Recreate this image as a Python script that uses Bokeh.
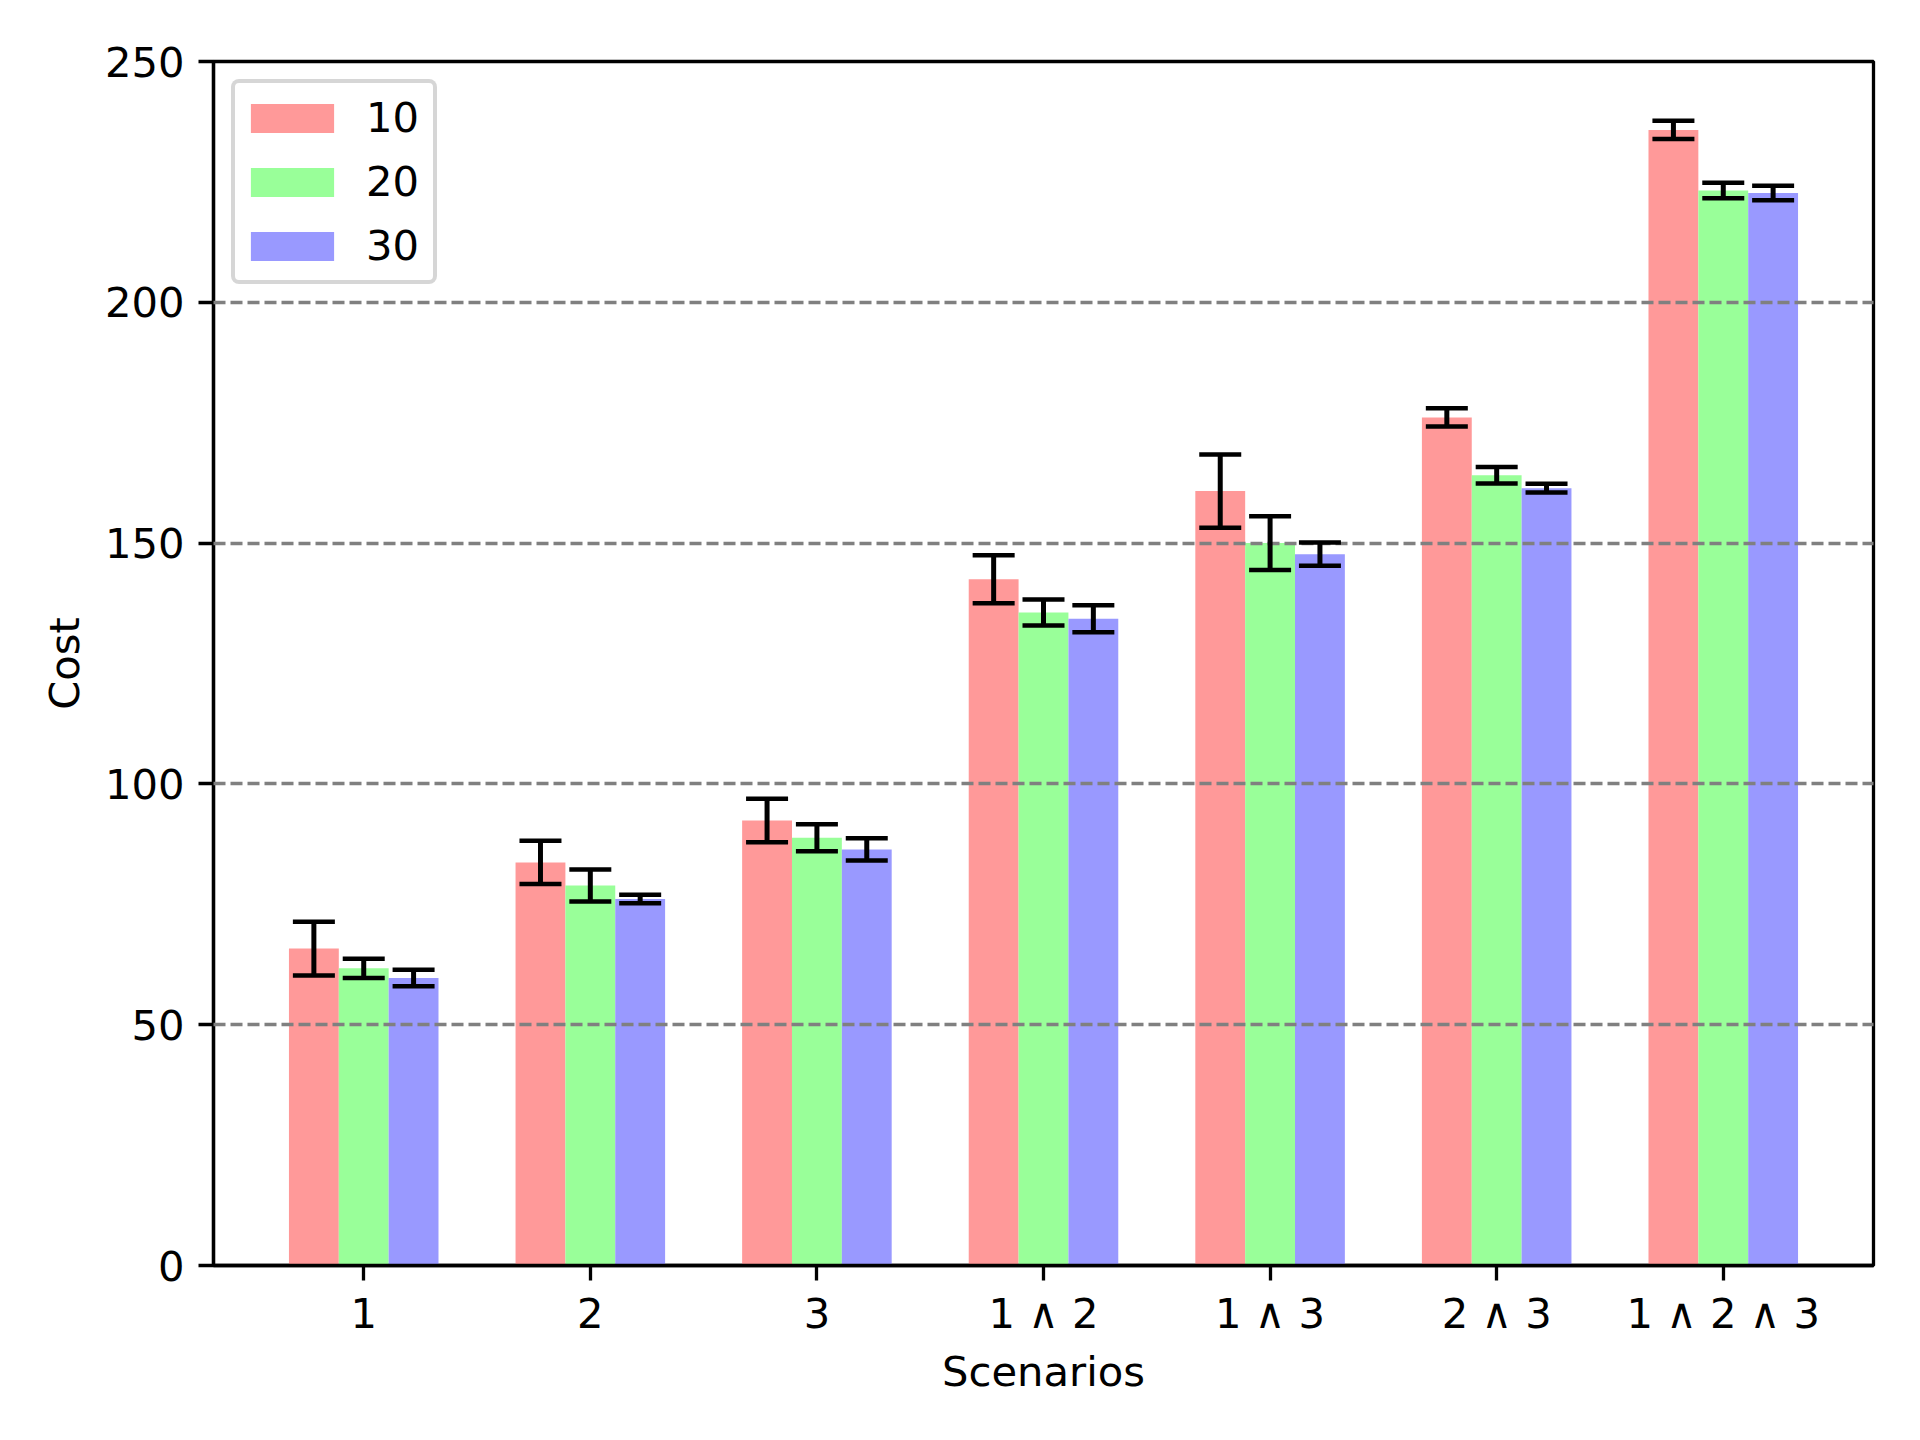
from bokeh.plotting import figure
from bokeh.models import FactorRange, Range1d, SingleIntervalTicker, ColumnDataSource, Whisker, TeeHead
from bokeh.transform import dodge
from bokeh.embed import file_html
from bokeh.resources import INLINE

scenarios = ["1", "2", "3", "1 \u2227 2", "1 \u2227 3", "2 \u2227 3", "1 \u2227 2 \u2227 3"]
series = ["10", "20", "30"]
cost_10 = [65.8, 83.7, 92.4, 142.5, 160.8, 176.1, 235.8]
err_10 = [5.6, 4.5, 4.5, 5.0, 7.6, 1.9, 1.9]
cost_20 = [61.7, 78.9, 88.8, 135.6, 150.0, 164.1, 223.2]
err_20 = [2.0, 3.3, 2.8, 2.7, 5.6, 1.7, 1.6]
cost_30 = [59.7, 76.1, 86.4, 134.3, 147.7, 161.4, 222.7]
err_30 = [1.7, 0.9, 2.3, 2.8, 2.4, 0.9, 1.5]
colors = ["#ff9999", "#99ff99", "#9999ff"]

FONT = "DejaVu Sans"
FS = "41.7px"
BAR_W = 0.22

p = figure(
    x_range=FactorRange(factors=scenarios, range_padding=0.163, range_padding_units="absolute"),
    y_range=Range1d(0, 250),
    frame_width=1660, frame_height=1204,
    min_border_left=213, min_border_right=31, min_border_top=61, min_border_bottom=159,
    output_backend="svg", toolbar_location=None,
    x_axis_label="Scenarios", y_axis_label="Cost",
)
p.background_fill_color = "white"
p.border_fill_color = "white"
p.outline_line_color = "black"
p.outline_line_width = 3.3

data = {"cat": scenarios}
for name, c, e in zip(series, [cost_10, cost_20, cost_30], [err_10, err_20, err_30]):
    data["v" + name] = c
    data["lo" + name] = [a - b for a, b in zip(c, e)]
    data["hi" + name] = [a + b for a, b in zip(c, e)]
src = ColumnDataSource(data)

offsets = [-BAR_W, 0.0, BAR_W]
for name, off, col in zip(series, offsets, colors):
    p.vbar(x=dodge("cat", off, range=p.x_range), top="v" + name, width=BAR_W, source=src,
           fill_color=col, line_color=None, legend_label=name)

for name, off in zip(series, offsets):
    w = Whisker(source=src, base=dodge("cat", off, range=p.x_range), upper="hi" + name, lower="lo" + name,
                line_color="black", line_width=5, level="annotation",
                upper_head=TeeHead(size=42, line_color="black", line_width=4.5),
                lower_head=TeeHead(size=42, line_color="black", line_width=4.5))
    p.add_layout(w)

# grid
p.xgrid.grid_line_color = None
p.ygrid.grid_line_color = "#808080"
p.ygrid.grid_line_width = 3.5
p.ygrid.grid_line_dash = "12 5"
p.ygrid.level = "guide"

p.yaxis.ticker = SingleIntervalTicker(interval=50)
for ax in [p.xaxis[0], p.yaxis[0]]:
    ax.axis_line_width = 3.3
    ax.axis_line_color = "black"
    ax.major_tick_line_width = 3.3
    ax.major_tick_out = 15
    ax.major_tick_in = 0
    ax.minor_tick_line_color = None
    ax.major_label_text_font = FONT
    ax.major_label_text_font_size = FS
    ax.major_label_text_color = "black"
    ax.axis_label_text_font = FONT
    ax.axis_label_text_font_size = FS
    ax.axis_label_text_font_style = "normal"
    ax.axis_label_text_color = "black"
p.xaxis.major_label_standoff = 8
p.xaxis.axis_label_standoff = 6
p.yaxis.major_label_standoff = 14
p.yaxis.axis_label_standoff = 13

lg = p.legend[0]
lg.location = "top_left"
lg.margin = 18
lg.padding = 5
lg.label_text_font = FONT
lg.label_text_font_size = FS
lg.label_text_color = "black"
lg.glyph_width = 104
lg.glyph_height = 36
lg.label_height = 59
lg.label_width = 62
lg.label_standoff = 22
lg.spacing = 5
lg.background_fill_color = "white"
lg.background_fill_alpha = 0.8
lg.border_line_color = "#cccccc"
lg.border_line_alpha = 0.8
lg.border_line_width = 4
if "border_radius" in lg.properties():
    lg.border_radius = 8

open("out.html", "w").write(file_html(p, INLINE))
